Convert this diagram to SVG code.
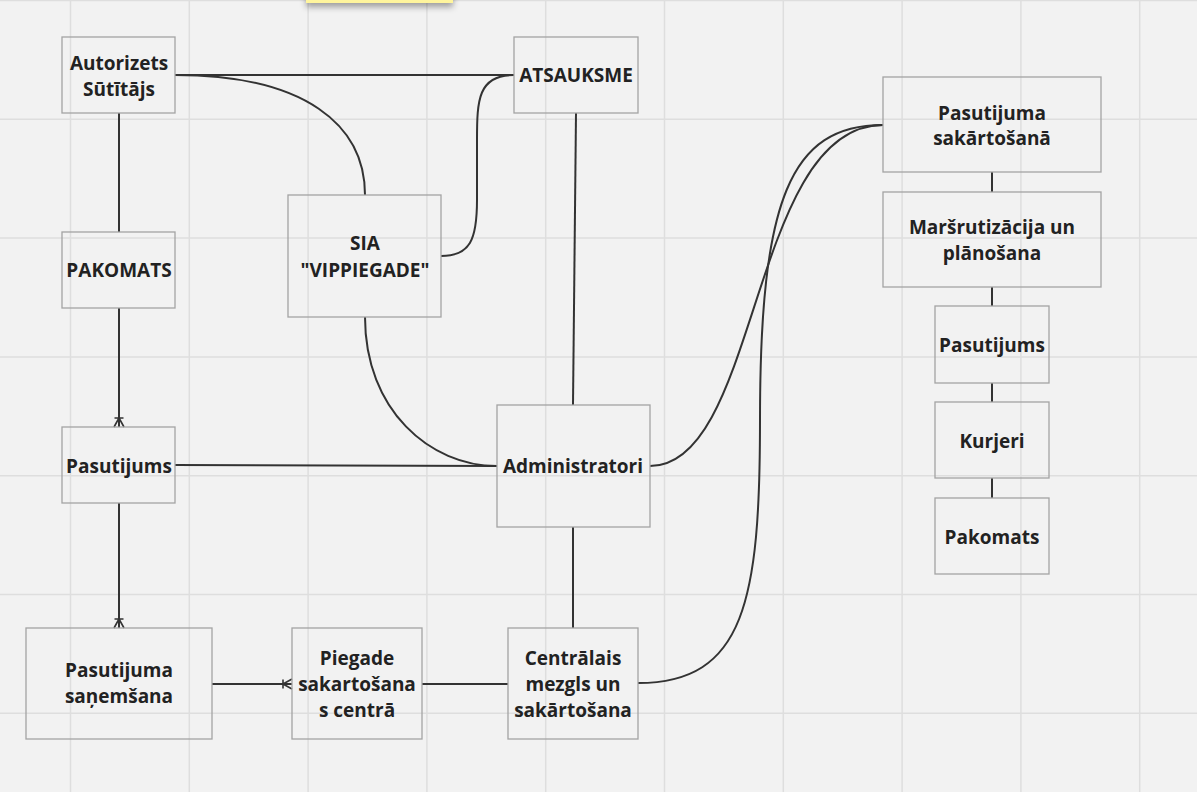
<svg xmlns="http://www.w3.org/2000/svg" width="1197" height="792" viewBox="0 0 1197 792">
<style>
.grid line{stroke:#dedede;stroke-width:1.5}
.node rect{fill:none;stroke:#a3a3a3;stroke-width:1.3}
.node text{font-family:"Open Sans","Noto Sans",sans-serif;font-weight:700;font-size:19px;fill:#222;text-anchor:middle;dominant-baseline:central}
.conn path,.conn line{fill:none;stroke:#333;stroke-width:2}
</style>
<defs>
<marker id="crow" viewBox="-12 -7 14 14" refX="0" refY="0" markerWidth="14" markerHeight="14" markerUnits="userSpaceOnUse" orient="auto">
<path d="M-9,-4.5 L-9,4.5 M-9,0 L0,-5 M-9,0 L0,5" fill="none" stroke="#333" stroke-width="1.6"/>
</marker>
<filter id="sh" x="-20%" y="-100%" width="140%" height="500%">
<feDropShadow dx="0" dy="4" stdDeviation="3" flood-color="#000" flood-opacity="0.35"/>
</filter>
</defs>
<rect width="1197" height="792" fill="#f2f2f2"/>
<g class="grid">
<line x1="70.5" y1="0" x2="70.5" y2="792"/>
<line x1="189.3" y1="0" x2="189.3" y2="792"/>
<line x1="308.1" y1="0" x2="308.1" y2="792"/>
<line x1="426.9" y1="0" x2="426.9" y2="792"/>
<line x1="545.7" y1="0" x2="545.7" y2="792"/>
<line x1="664.5" y1="0" x2="664.5" y2="792"/>
<line x1="783.3" y1="0" x2="783.3" y2="792"/>
<line x1="902.1" y1="0" x2="902.1" y2="792"/>
<line x1="1020.9" y1="0" x2="1020.9" y2="792"/>
<line x1="1139.7" y1="0" x2="1139.7" y2="792"/>
<line x1="0" y1="0.5" x2="1197" y2="0.5"/>
<line x1="0" y1="119.3" x2="1197" y2="119.3"/>
<line x1="0" y1="238.1" x2="1197" y2="238.1"/>
<line x1="0" y1="356.9" x2="1197" y2="356.9"/>
<line x1="0" y1="475.7" x2="1197" y2="475.7"/>
<line x1="0" y1="594.5" x2="1197" y2="594.5"/>
<line x1="0" y1="713.3" x2="1197" y2="713.3"/>
</g>
<rect x="306" y="-12" width="147" height="15" fill="#fff59d" filter="url(#sh)"/>
<g class="conn">
<line x1="175" y1="75" x2="514" y2="75"/>
<path d="M175,75 C305,75 365,125 365,195"/>
<path d="M514,75 C478,75 477,100 477,140 L477,200 C477,240 470,256 441,256"/>
<line x1="576" y1="113" x2="573" y2="405"/>
<path d="M365,317 C365,410 430,466 497,466"/>
<line x1="175" y1="465" x2="497" y2="466"/>
<path d="M650,466 C760,466 750,125 883,125"/>
<path d="M638,683 C745,683 760,600 760,420 C760,200 790,125 883,125"/>
<line x1="573" y1="527" x2="573" y2="628"/>
<line x1="508" y1="684" x2="422" y2="684"/>
<line x1="212" y1="684" x2="292" y2="684" marker-end="url(#crow)"/>
<line x1="119" y1="113" x2="119" y2="232"/>
<line x1="119" y1="308" x2="119" y2="427" marker-end="url(#crow)"/>
<line x1="119" y1="503" x2="119" y2="628" marker-end="url(#crow)"/>
<line x1="992" y1="172" x2="992" y2="192"/>
<line x1="992" y1="287" x2="992" y2="306"/>
<line x1="992" y1="383" x2="992" y2="402"/>
<line x1="992" y1="478" x2="992" y2="498"/>
</g>
<g id="n-autorizets" class="node"><rect x="62" y="37" width="113" height="76"/><text x="119" y="63">Autorizets</text><text x="119" y="89">Sūtītājs</text></g>
<g id="n-atsauksme" class="node"><rect x="514" y="37" width="124" height="76"/><text x="576" y="75">ATSAUKSME</text></g>
<g id="n-sia" class="node"><rect x="288" y="195" width="153" height="122"/><text x="365" y="243">SIA</text><text x="365" y="270">"VIPPIEGADE"</text></g>
<g id="n-pakomats-l" class="node"><rect x="62" y="232" width="113" height="76"/><text x="119" y="270">PAKOMATS</text></g>
<g id="n-pasutijums-l" class="node"><rect x="62" y="427" width="113" height="76"/><text x="119" y="466">Pasutijums</text></g>
<g id="n-admin" class="node"><rect x="497" y="405" width="153" height="122"/><text x="573" y="466">Administratori</text></g>
<g id="n-sanemsana" class="node"><rect x="26" y="628" width="186" height="111"/><text x="119" y="670">Pasutijuma</text><text x="119" y="696">saņemšana</text></g>
<g id="n-piegade" class="node"><rect x="292" y="628" width="130" height="111"/><text x="357" y="658">Piegade</text><text x="357" y="684">sakartošana</text><text x="357" y="710">s centrā</text></g>
<g id="n-centralais" class="node"><rect x="508" y="628" width="130" height="111"/><text x="573" y="658">Centrālais</text><text x="573" y="684">mezgls un</text><text x="573" y="710">sakārtošana</text></g>
<g id="n-sakartosana" class="node"><rect x="883" y="77" width="218" height="95"/><text x="992" y="113">Pasutijuma</text><text x="992" y="138">sakārtošanā</text></g>
<g id="n-marsrutizacija" class="node"><rect x="883" y="192" width="218" height="95"/><text x="992" y="227">Maršrutizācija un</text><text x="992" y="253">plānošana</text></g>
<g id="n-pasutijums-r" class="node"><rect x="935" y="306" width="114" height="77"/><text x="992" y="345">Pasutijums</text></g>
<g id="n-kurjeri" class="node"><rect x="935" y="402" width="114" height="76"/><text x="992" y="441">Kurjeri</text></g>
<g id="n-pakomats-r" class="node"><rect x="935" y="498" width="114" height="76"/><text x="992" y="537">Pakomats</text></g>
</svg>
